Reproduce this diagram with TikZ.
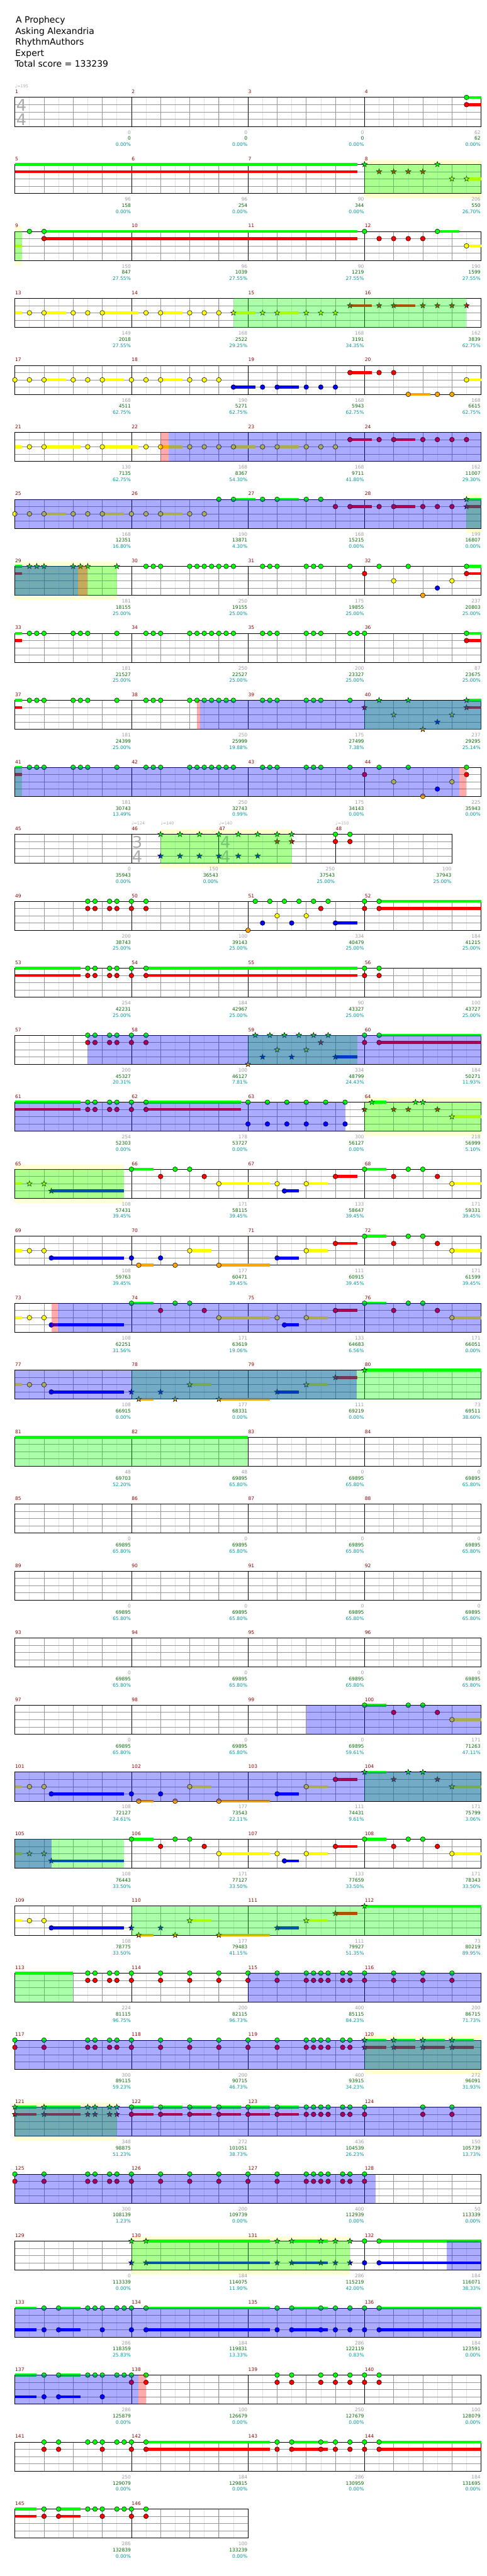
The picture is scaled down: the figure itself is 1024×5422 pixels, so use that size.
\documentclass[tikz,border=0pt]{standalone}
\usepackage{fontspec}
\setmainfont{DejaVu Sans}
\usetikzlibrary{calc}
\pgfdeclarelayer{bg}
\pgfsetlayers{bg,main}

\definecolor{ng}{RGB}{0,255,0}
\definecolor{nr}{RGB}{255,0,0}
\definecolor{ny}{RGB}{255,255,0}
\definecolor{nb}{RGB}{0,0,255}
\definecolor{no}{RGB}{255,165,0}
\definecolor{bandc}{RGB}{255,255,210}
\definecolor{cMeas}{RGB}{140,0,0}
\definecolor{cGrey}{RGB}{155,155,155}
\definecolor{cCum}{RGB}{0,100,0}
\definecolor{cPct}{RGB}{0,150,150}
\definecolor{cLight}{RGB}{225,225,225}
\definecolor{cMid}{RGB}{150,150,150}
\definecolor{cSig}{RGB}{170,170,170}

\newcommand\fs[1]{\fontsize{#1}{#1}\selectfont}
\newcommand\nh[3]{\filldraw[fill=#3,draw=black,line width=0.7pt] (#1,#2) circle [radius=5pt];}
\newcommand\ns[3]{\filldraw[fill=#3,draw=black,line width=0.7pt,shift={(#1,#2)}] (90:6pt)--(126:2.4pt)--(162:6pt)--(198:2.4pt)--(234:6pt)--(270:2.4pt)--(306:6pt)--(342:2.4pt)--(18:6pt)--(54:2.4pt)--cycle;}
\newcommand\su[4]{\draw[#4,line width=6pt] (#1,#3) -- (#2,#3);}
\newcommand\sus[3]{\foreach \ka/\kb in {#3}{\su{\ka}{\kb}{#1}{#2}}}
\newcommand\nts[3]{\foreach \k in {#3}{\nh{\k}{#1}{#2}}}
\newcommand\sts[3]{\foreach \k in {#3}{\ns{\k}{#1}{#2}}}
\newcommand\gr[1]{\foreach \k in {#1}{\nh{\k}{0}{ng}\nh{\k}{1}{nr}}}
\newcommand\grs[1]{\foreach \k in {#1}{\ns{\k}{0}{ng}\ns{\k}{1}{nr}}}
\newcommand\gb[1]{\foreach \k in {#1}{\nh{\k}{0}{ng}\nh{\k}{3}{nb}}}
\newcommand\gbs[1]{\foreach \k in {#1}{\ns{\k}{0}{ng}\ns{\k}{3}{nb}}}
\newcommand\ov[3]{\fill[#3,opacity=0.33] (#1,0) rectangle (#2,4);}
\newcommand\band[2]{\begin{pgfonlayer}{bg}\fill[bandc] ([yshift=10pt]#1,0) rectangle ([yshift=-10pt]#2,4);\end{pgfonlayer}}
\newcommand\tempo[1]{{\fs{10}\char"2669}=#1}

\begin{document}
\begin{tikzpicture}[x=1pt,y=1pt,
rowat/.style={shift={(31.3,{-205-141*(#1-1)})},x=30.65pt,y=-15.25pt},
gridlight/.style={draw=cLight,line width=0.8pt},
gridmid/.style={draw=cMid,line width=0.9pt},
bar/.style={draw=black,line width=1pt},
title/.style={anchor=base west,inner sep=0pt,font=\fs{18.5}},
measnum/.style={anchor=base west,inner sep=0pt,text=cMeas,font=\fs{10}},
scgrey/.style={anchor=base east,inner sep=0pt,text=cGrey,font=\fs{10}},
sccum/.style={anchor=base east,inner sep=0pt,text=cCum,font=\fs{10}},
scpct/.style={anchor=base east,inner sep=0pt,text=cPct,font=\fs{10}},
tsig/.style={inner sep=0pt,text=cSig,font=\fs{34}},
tmark/.style={anchor=base west,inner sep=0pt,text=cSig,font=\fs{8.5}}]
\useasboundingbox (0,0) rectangle (1024,-5422);

\node[title] (song) at (33,-48) {A Prophecy};
\node[title] (artist) at (32,-72) {Asking Alexandria};
\node[title] (charter) at (32,-95) {RhythmAuthors};
\node[title] (level) at (32,-118) {Expert};
\node[title] (total) at (31,-141) {Total score = 133239};

\foreach \rw in {1,...,37}{
  \pgfmathtruncatemacro\nk{\rw==12 ? 30 : (\rw==37 ? 16 : 32)}
  \pgfmathtruncatemacro\nl{\nk-1}
  \begin{scope}[rowat=\rw]
    \foreach \k in {1,...,\nl} \draw[gridlight] (\k,0) -- (\k,4);
    \foreach \k in {2,4,...,\nl} \draw[gridmid] (\k,0) -- (\k,4);
    \foreach \l in {1,2,3} \draw[gridmid] (0,\l) -- (\nk,\l);
    \ifnum\rw=12\relax
      \foreach \k in {8,14,22} \draw[bar] (\k,0) -- (\k,4);
    \else\ifnum\rw=37\relax
      \draw[bar] (8,0) -- (8,4);
    \else
      \foreach \k in {8,16,24} \draw[bar] (\k,0) -- (\k,4);
    \fi\fi
    \draw[bar] (0,0) rectangle (\nk,4);
  \end{scope}
}

\foreach \m/\va/\vb/\vd in {1/0/0/0.00,2/0/0/0.00,3/0/0/0.00,4/62/62/0.00,
5/96/158/0.00,6/96/254/0.00,7/90/344/0.00,8/206/550/26.70,
9/150/847/27.55,10/96/1039/27.55,11/90/1219/27.55,12/190/1599/27.55,
13/149/2018/27.55,14/168/2522/29.25,15/168/3191/34.35,16/162/3839/62.75,
17/168/4511/62.75,18/190/5271/62.75,19/168/5943/62.75,20/168/6615/62.75,
21/130/7135/62.75,22/168/8367/54.30,23/168/9711/41.80,24/162/11007/29.30,
25/168/12351/16.80,26/190/13871/4.30,27/168/15215/0.00,28/199/16807/0.00,
29/181/18155/25.00,30/250/19155/25.00,31/175/19855/25.00,32/237/20803/25.00,
33/181/21527/25.00,34/250/22527/25.00,35/200/23327/25.00,36/87/23675/25.00,
37/181/24399/25.00,38/250/25999/19.88,39/175/27499/7.38,40/237/29295/25.14,
41/181/30743/13.49,42/250/32743/0.99,43/175/34143/0.00,44/225/35943/0.00,
45/0/35943/0.00,46/150/36543/0.00,47/250/37543/25.00,48/100/37943/25.00,
49/200/38743/25.00,50/100/39143/25.00,51/334/40479/25.00,52/184/41215/25.00,
53/254/42231/25.00,54/184/42967/25.00,55/90/43327/25.00,56/100/43727/25.00,
57/200/45327/20.31,58/100/46127/7.81,59/334/48799/24.43,60/184/50271/11.93,
61/254/52303/0.00,62/178/53727/0.00,63/300/56127/0.00,64/218/56999/5.10,
65/108/57431/39.45,66/171/58115/39.45,67/133/58647/39.45,68/171/59331/39.45,
69/108/59763/39.45,70/177/60471/39.45,71/111/60915/39.45,72/171/61599/39.45,
73/108/62251/31.56,74/171/63619/19.06,75/133/64683/6.56,76/171/66051/0.00,
77/108/66915/0.00,78/177/68331/0.00,79/111/69219/0.00,80/73/69511/38.60,
81/48/69703/52.20,82/48/69895/65.80,83/0/69895/65.80,84/0/69895/65.80,
85/0/69895/65.80,86/0/69895/65.80,87/0/69895/65.80,88/0/69895/65.80,
89/0/69895/65.80,90/0/69895/65.80,91/0/69895/65.80,92/0/69895/65.80,
93/0/69895/65.80,94/0/69895/65.80,95/0/69895/65.80,96/0/69895/65.80,
97/0/69895/65.80,98/0/69895/65.80,99/0/69895/59.61,100/171/71263/47.11,
101/108/72127/34.61,102/177/73543/22.11,103/111/74431/9.61,104/171/75799/3.06,
105/108/76443/33.50,106/171/77127/33.50,107/133/77659/33.50,108/171/78343/33.50,
109/108/78775/33.50,110/177/79483/41.15,111/111/79927/51.35,112/73/80219/89.95,
113/224/81115/96.75,114/200/82115/96.73,115/400/85115/84.23,116/200/86715/71.73,
117/300/89115/59.23,118/200/90715/46.73,119/400/93915/34.23,120/272/96091/31.93,
121/348/98875/51.23,122/272/101051/38.73,123/436/104539/26.23,124/150/105739/13.73,
125/300/108139/1.23,126/200/109739/0.00,127/400/112939/0.00,128/50/113339/0.00,
129/0/113339/0.00,130/184/114075/11.90,131/286/115219/42.00,132/184/116071/38.33,
133/286/118359/25.83,134/184/119831/13.33,135/286/122119/0.83,136/184/123591/0.00,
137/286/125879/0.00,138/100/126679/0.00,139/250/127679/0.00,140/100/128079/0.00,
141/250/129079/0.00,142/184/129815/0.00,143/286/130959/0.00,144/184/131695/0.00,
145/286/132839/0.00,146/100/133239/0.00}{
  \pgfmathtruncatemacro\rw{int((\m-1)/4)+1}
  \pgfmathtruncatemacro\cl{mod(\m-1,4)}
  \pgfmathtruncatemacro\xs{8*\cl}
  \pgfmathtruncatemacro\xe{8*\cl+8}
  \ifnum\rw=12\relax
    \pgfmathtruncatemacro\xs{\cl==0 ? 0 : (\cl==1 ? 8 : (\cl==2 ? 14 : 22))}
    \pgfmathtruncatemacro\xe{\cl==0 ? 8 : (\cl==1 ? 14 : (\cl==2 ? 22 : 30))}
  \fi
  \begin{scope}[rowat=\rw]
    \node[measnum] (mn\m) at ([xshift=0.5pt,yshift=8pt]\xs,0) {\m};
    \node[scgrey] (sg\m) at ([xshift=-1pt,yshift=-77pt]\xe,0) {\va};
    \node[sccum] (sc\m) at ([xshift=-1pt,yshift=-90pt]\xe,0) {\vb};
    \node[scpct] (sp\m) at ([xshift=-1pt,yshift=-103pt]\xe,0) {\vd\%};
  \end{scope}
}

\begin{scope}[rowat=1]
\node[tmark] (bpm1) at ([yshift=20pt]0,0) {\tempo{195}};
\node[tsig] (ts1a) at (0.45,1.05) {4};
\node[tsig] (ts1b) at (0.45,3.1) {4};
\sus{0}{ng}{31/32}\sus{1}{nr}{31/32}
\gr{31}
\end{scope}

\begin{scope}[rowat=2]
\band{24}{32}
\sus{0}{ng}{0/23.5}\sus{1}{nr}{0/23.5}\sus{2}{ny}{31/32}
\sts{0}{ng}{24,29}\sts{1}{nr}{25,26,27,28}\sts{2}{ny}{30,31}
\ov{24}{32}{ng}
\end{scope}

\begin{scope}[rowat=3]
\band{0}{0.5}
\sus{2}{ny}{0/0.5,31/32}\sus{0}{ng}{2/23.5,29/30.5}\sus{1}{nr}{2/23.5}
\nts{0}{ng}{1,2,24,29}\nts{1}{nr}{2,25,26,27,28}\nts{2}{ny}{31}
\ov{0}{0.5}{ng}
\end{scope}

\begin{scope}[rowat=4]
\sus{2}{ny}{0/0.5,2/3.5,6/8.5,10/11.5,15/16.5,18/19.5}\sus{1}{nr}{23/24.5,26/27.5}
\nts{2}{ny}{1,2,4,5,6,9,10,12,13,14}
\sts{2}{ny}{15,17,18,20,21,22}
\sts{1}{nr}{23,25,26,28,29,30,31}
\ov{15}{31}{ng}
\end{scope}

\begin{scope}[rowat=5]
\sus{2}{ny}{2/3.5,6/7.5,10/11.5,31/32}\sus{3}{nb}{15/16.5,18/19.5}\sus{1}{nr}{23/24.5}\sus{4}{no}{27/28.5}
\nts{2}{ny}{0,1,2,4,5,6,8,9,10,12,13,14,31}
\nts{3}{nb}{15,17,18,20,21,22}
\nts{1}{nr}{23,25,26}
\nts{4}{no}{27,29,30}
\end{scope}

\begin{scope}[rowat=6]
\sus{2}{ny}{0/0.5,2/4.5,6/8.5,10/11.5,15/16.5,18/19.5}\sus{1}{nr}{23/24.5,26/27.5}
\nts{2}{ny}{1,2,5,6,9,10,12,13,14,15,17,18,20,21,22}
\nts{1}{nr}{23,25,26,28,29,30,31}
\ov{10.55}{32}{nb}\ov{10}{10.55}{nr}
\end{scope}

\begin{scope}[rowat=7]
\band{31}{32}
\sus{2}{ny}{2/3.5,6/7.5,10/11.5}\sus{0}{ng}{15/16.5,18/19.5,31/32}\sus{1}{nr}{23/24.5,26/27.5,31/32}
\nts{2}{ny}{0,1,2,4,5,6,8,9,10,12,13}
\nts{0}{ng}{14,15,17,18,20,21}
\nts{1}{nr}{22,23,25,26,28,29,30}
\grs{31}
\ov{31}{32}{ng}\ov{0}{32}{nb}
\end{scope}

\begin{scope}[rowat=8]
\band{0}{7}
\sus{0}{ng}{0/0.5,31/32}\sus{1}{nr}{0/0.5,31/32}
\sts{0}{ng}{1,1.5,2,4,4.5,5,7}
\nts{0}{ng}{9,9.5,10,12,12.5,13,13.5,14,14.5,15,17,17.5,18,20,20.5,21,23,25,27,31}
\nts{1}{nr}{24,31}\nts{2}{ny}{26,30}\nts{4}{no}{28}\nts{3}{nb}{29}
\ov{0}{7}{ng}\ov{0}{4.35}{nb}\ov{4.35}{5}{nr}
\end{scope}

\begin{scope}[rowat=9]
\sus{0}{ng}{0/0.5,31/32}\sus{1}{nr}{0/0.5,31/32}
\nts{0}{ng}{1,1.5,2,4,4.5,5,7,9,9.5,10,12,12.5,13,13.5,14,14.5,15,17,17.5,18,20,20.5,21,23,23.5,24,31}
\nts{1}{nr}{31}
\end{scope}

\begin{scope}[rowat=10]
\sus{0}{ng}{0/0.5,31/32}\sus{1}{nr}{0/0.5,31/32}
\nts{0}{ng}{1,1.5,2,4,4.5,5,7,9,9.5,10,12,12.5,13,13.5,14,14.5,15,17,17.5,18,20,20.5,21,23}
\sts{1}{nr}{24,31}\sts{0}{ng}{25,27,31}\sts{2}{ny}{26,30}\sts{4}{no}{28}\sts{3}{nb}{29}
\ov{24}{32}{ng}\ov{12.7}{32}{nb}\ov{12.5}{12.7}{nr}
\end{scope}

\begin{scope}[rowat=11]
\sus{0}{ng}{0/0.5}\sus{1}{nr}{0/0.5}
\nts{0}{ng}{1,1.5,2,4,4.5,5,7,9,9.5,10,12,12.5,13,13.5,14,14.5,15,17,17.5,18,20,20.5,21,23,25,27,31}
\nts{1}{nr}{24,31}\nts{2}{ny}{26,30}\nts{4}{no}{28}\nts{3}{nb}{29}
\ov{0}{0.5}{ng}\ov{0}{30.5}{nb}\ov{30.5}{31}{nr}
\end{scope}

\begin{scope}[rowat=12]
\band{10}{19}
\node[tmark] (bpm2) at ([yshift=20pt]8,0) {\tempo{124}};
\node[tmark] (bpm3) at ([yshift=20pt]10,0) {\tempo{140}};
\node[tmark] (bpm4) at ([yshift=20pt]14,0) {\tempo{140}};
\node[tmark] (bpm5) at ([yshift=20pt]22,0) {\tempo{150}};
\node[tsig] (ts2a) at (8.4,1.05) {3};
\node[tsig] (ts2b) at (8.4,3.1) {4};
\node[tsig] (ts3a) at (14.45,1.05) {4};
\node[tsig] (ts3b) at (14.45,3.1) {4};
\sts{0}{ng}{10,11.333,12.667,14,15.333,16.667,18,19}
\sts{3}{nb}{10,11.333,12.667,14,15.333,16.667}
\sts{1}{nr}{18,19}
\gr{22,23}
\ov{10}{19}{ng}
\end{scope}

\begin{scope}[rowat=13]
\sus{3}{nb}{22/23.5}\sus{0}{ng}{25/32}\sus{1}{nr}{25/32}
\gr{5,5.5,6.5,7,8,9,24,25}
\nts{4}{no}{16}\nts{0}{ng}{16.5,17.5,18.5,19.5,20.5,21.5}\nts{3}{nb}{17,19,22}\nts{2}{ny}{18,20}\nts{1}{nr}{21}
\end{scope}

\begin{scope}[rowat=14]
\sus{0}{ng}{0/4.5,9/23.5}\sus{1}{nr}{0/4.5,9/23.5}
\gr{5,5.5,6.5,7,8,9,24,25}
\end{scope}

\begin{scope}[rowat=15]
\sus{3}{nb}{22/23.5}\sus{0}{ng}{25/32}\sus{1}{nr}{25/32}
\gr{5,5.5,6.5,7,8,9,24,25}
\sts{4}{no}{16}\sts{0}{ng}{16.5,17.5,18.5,19.5,20.5,21.5}\sts{3}{nb}{17,19,22}\sts{2}{ny}{18,20}\sts{1}{nr}{21}
\ov{16}{23.5}{ng}\ov{5}{32}{nb}
\end{scope}

\begin{scope}[rowat=16]
\band{24}{32}
\sus{0}{ng}{0/4.5,9/15.5,24.5/25.5}\sus{1}{nr}{0/4.5,9/15.5}\sus{2}{ny}{30/32}
\gr{5,5.5,6.5,7,8,9}
\gb{16,17.333,18.667,20,21.333,22.667}
\sts{1}{nr}{24,26,27,29}\sts{0}{ng}{24.5,27.5,28}\sts{2}{ny}{30}
\ov{24}{32}{ng}\ov{0}{22.67}{nb}
\end{scope}

\begin{scope}[rowat=17]
\band{0}{7.5}
\sus{2}{ny}{0/0.5,14/17.5,20/21.5,30/32}\sus{3}{nb}{2.5/7.5,18.5/19.5}\sus{0}{ng}{8/9.5,24/25.5}\sus{1}{nr}{22/23.5}
\sts{2}{ny}{1,2}\sts{3}{nb}{2.5}
\nts{0}{ng}{8,11,12,24,27,28}\nts{1}{nr}{10,13,22,26,29}\nts{2}{ny}{14,18,20,30}\nts{3}{nb}{18.5}
\ov{0}{7.5}{ng}
\end{scope}

\begin{scope}[rowat=18]
\sus{2}{ny}{0/0.5,12/13.5,20/21.5,30/32}\sus{3}{nb}{2.5/7.5,18/19.5}\sus{4}{no}{8.5/9.5,14/17.5}\sus{1}{nr}{22/23.5}\sus{0}{ng}{24/25.5}
\nts{2}{ny}{1,2,12,20,30}\nts{3}{nb}{2.5,8,10,18}\nts{4}{no}{8.5,11,14}\nts{1}{nr}{22,26,29}\nts{0}{ng}{24,27,28}
\end{scope}

\begin{scope}[rowat=19]
\sus{2}{ny}{0/0.5,14/17.5,20/21.5,30/32}\sus{3}{nb}{2.5/7.5,18.5/19.5}\sus{0}{ng}{8/9.5,24/25.5}\sus{1}{nr}{22/23.5}
\nts{2}{ny}{1,2,14,18,20,30}\nts{3}{nb}{2.5,18.5}\nts{0}{ng}{8,11,12,24,27,28}\nts{1}{nr}{10,13,22,26,29}
\ov{2.95}{32}{nb}\ov{2.5}{2.95}{nr}
\end{scope}

\begin{scope}[rowat=20]
\sus{2}{ny}{0/0.5,12/13.5,20/21.5}\sus{3}{nb}{2.5/7.5,18/19.5}\sus{4}{no}{8.5/9.5,14/17.5}\sus{1}{nr}{22/23.5}\sus{0}{ng}{24/32}
\nts{2}{ny}{1,2}\nts{3}{nb}{2.5}
\sts{3}{nb}{8,10,18}\sts{4}{no}{8.5,11,14}\sts{2}{ny}{12,20}\sts{1}{nr}{22}\sts{0}{ng}{24}
\ov{8}{32}{ng}\ov{0}{23.45}{nb}
\end{scope}

\begin{scope}[rowat=21]
\sus{0}{ng}{0/16}
\ov{0}{16}{ng}
\end{scope}

\begin{scope}[rowat=25]
\sus{0}{ng}{24/25.5}\sus{2}{ny}{30/32}
\nts{0}{ng}{24,27,28}\nts{1}{nr}{26,29}\nts{2}{ny}{30}
\ov{20}{32}{nb}
\end{scope}

\begin{scope}[rowat=26]
\sus{2}{ny}{0/0.5,12/13.5,20/21.5,30/32}\sus{3}{nb}{2.5/7.5,18/19.5}\sus{4}{no}{8.5/9.5,14/17.5}\sus{1}{nr}{22/23.5}\sus{0}{ng}{24/25.5}
\nts{2}{ny}{1,2,12,20}\nts{3}{nb}{2.5,8,10,18}\nts{4}{no}{8.5,11,14}\nts{1}{nr}{22}
\sts{0}{ng}{24,27,28}\sts{1}{nr}{26,29}\sts{2}{ny}{30}
\ov{24}{32}{ng}\ov{0}{32}{nb}
\end{scope}

\begin{scope}[rowat=27]
\sus{2}{ny}{0/0.5,14/17.5,20/21.5,30/32}\sus{3}{nb}{2.5/7.5,18.5/19.5}\sus{0}{ng}{8/9.5,24/25.5}\sus{1}{nr}{22/23.5}
\sts{2}{ny}{1,2}\sts{3}{nb}{2.5}
\nts{0}{ng}{8,11,12,24,27,28}\nts{1}{nr}{10,13,22,26,29}\nts{2}{ny}{14,18,20,30}\nts{3}{nb}{18.5}
\ov{0}{7.5}{ng}\ov{0}{2.5}{nb}
\end{scope}

\begin{scope}[rowat=28]
\sus{2}{ny}{0/0.5,12/13.5,20/21.5}\sus{3}{nb}{2.5/7.5,18/19.5}\sus{4}{no}{8.5/9.5,14/17.5}\sus{1}{nr}{22/23.5}\sus{0}{ng}{24/32}
\nts{2}{ny}{1,2}\nts{3}{nb}{2.5}
\sts{3}{nb}{8,10,18}\sts{4}{no}{8.5,11,14}\sts{2}{ny}{12,20}\sts{1}{nr}{22}\sts{0}{ng}{24}
\ov{8}{32}{ng}
\end{scope}

\begin{scope}[rowat=29]
\sus{0}{ng}{0/4}
\gr{5,5.5,6.5,7,8,10,12,14,16,18,20,20.5,21,21.5,22.5,23,24,26,28,30}
\ov{0}{4}{ng}\ov{16}{32}{nb}
\end{scope}

\begin{scope}[rowat=30]
\band{24}{32}
\sus{0}{ng}{24/25.5,26/27.5,28/29.5,30/31.5}\sus{1}{nr}{24/25.5,26/27.5,28/29.5,30/31.5}
\gr{0,2,5,5.5,6.5,7,8,10,12,14,16,18,20,20.5,21,21.5,22.5,23}
\grs{24,26,28,30}
\ov{24}{32}{ng}\ov{0}{32}{nb}
\end{scope}

\begin{scope}[rowat=31]
\band{0}{7}
\sus{0}{ng}{0/1.5,2/4.5,8/9.5,10/11.5,12/13.5,14/15.5,16/17.5,18/19.5}
\sus{1}{nr}{0/1.5,2/4.5,8/9.5,10/11.5,12/13.5,14/15.5,16/17.5,18/19.5}
\grs{0,2,5,5.5,6.5,7}
\gr{8,10,12,14,16,18,20,20.5,21,21.5,22.5,23,24,28,30}
\ov{0}{7}{ng}\ov{0}{32}{nb}
\end{scope}

\begin{scope}[rowat=32]
\gr{0,2,5,5.5,6.5,7,8,10,12,14,16,18,20,20.5,21,21.5,22.5,23,24}
\ov{0}{24.75}{nb}
\end{scope}

\begin{scope}[rowat=33]
\band{8}{23}
\sus{0}{ng}{9/17.5,19/21.5,25/32}\sus{3}{nb}{9/17.5,19/21.5,25/32}
\gbs{8,9,18,19,21,22,23}\gb{24,25}
\ov{8}{23}{ng}\ov{29.63}{32}{nb}
\end{scope}

\begin{scope}[rowat=34]
\sus{0}{ng}{0/1.5,3/4.5,9/17.5,19/21.5,25/32}\sus{3}{nb}{0/1.5,3/4.5,9/17.5,19/21.5,25/32}
\gb{2,3,6,8,9,18,19,21,22,23,24,25}\nts{0}{ng}{5,5.5,7,7.5}
\ov{0}{32}{nb}
\end{scope}

\begin{scope}[rowat=35]
\sus{0}{ng}{0/1.5,3/4.5}\sus{3}{nb}{0/1.5,3/4.5}
\gb{2,3,6}\nts{0}{ng}{5,5.5,7,7.5}\gr{8,9,18,19,21,22,23,24,25}
\ov{0}{8.5}{nb}\ov{8.5}{9}{nr}
\end{scope}

\begin{scope}[rowat=36]
\sus{0}{ng}{9/17.5,19/21.5,25/32}\sus{1}{nr}{9/17.5,19/21.5,25/32}
\gr{2,3,6,8,9,18,19,21,22,23,24,25}\nts{0}{ng}{5,5.5,7,7.5}
\end{scope}

\begin{scope}[rowat=37]
\sus{0}{ng}{0/1.5,3/4.5}\sus{1}{nr}{0/1.5,3/4.5}
\gr{2,3,6,8,9}\nts{0}{ng}{5,5.5,7,7.5}
\end{scope}
\end{tikzpicture}
\end{document}
